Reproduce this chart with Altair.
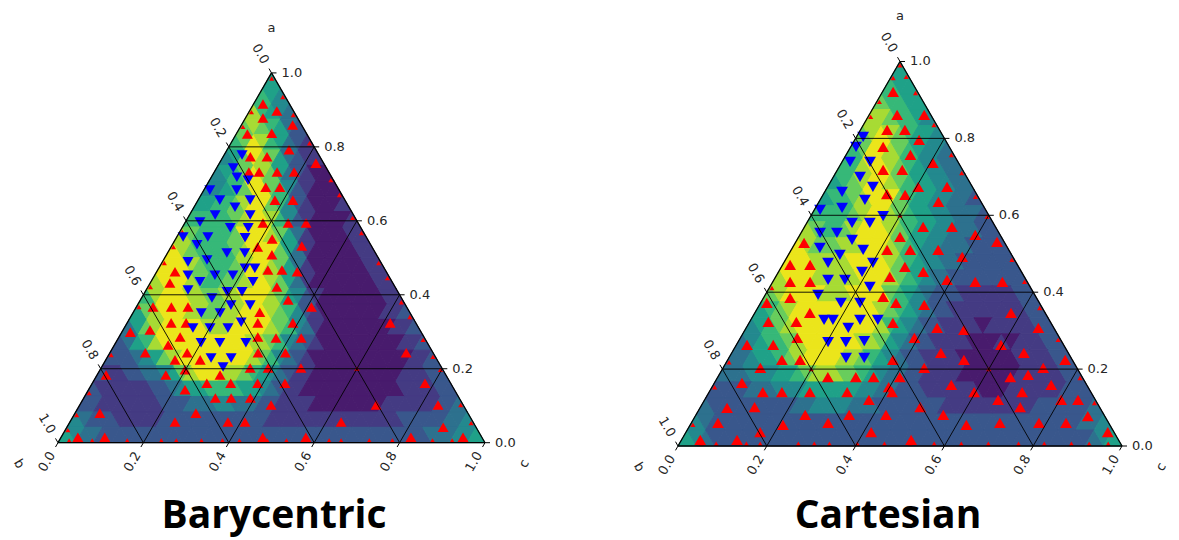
import math

import altair as alt
import pandas as pd

H = math.sqrt(3) / 2

# ---------------------------------------------------------------------------
# Barycentric panel
# heat map: one string per row of a 24-step ternary mesh (top row first);
# cells alternate up / down triangles, each digit is a level 0..9 of viridis
bary_heat = [
    "5",
    "654",
    "86543",
    "7876532",
    "679865321",
    "45798753211",
    "4567987532100",
    "445679976421000",
    "55667899764210001",
    "6666678998642100001",
    "8766667999" "87531" "0000" "11",
    "9876666789" "997531" "00000" "11",
    "9998766678" "9987531" "000000" "11",
    "8999876677" "89987531" "0000000" "11",
    "6899988778" "8999875421" "0000000" "11",
    "5789998877" "889998764" "21" "0000000" "112",
    "3578" "99999" "888" "9999" "8764" "31" "00000000" "112",
    "23568" "9999999999" "88" "764321" "000000000" "112",
    "22234578" "99999999" "8764321" "00000000000" "112",
    "211223345789998876543211" "0000000000" "11122",
    "211111122345566665543211" "00000000000" "111122",
    "22111111122233344333221111" "00000000" "111111" "223",
    "43222111112222222222221" "11111111111111" "22222" "334",
    "5433" "22222" "22222" "22222" "22222" "22222" "22222" "22222" "22333445",
]

# red up-triangles (a, c); b = 1 - a - c
bary_red_a = [
    .916, .897, .878, .835, .837, .859, .773, .773, .792, .732, .732, .732, .732, .756,
    .691, .691, .656, .656, .594, .594, .594, .551, .532, .529, .508, .467, .467, .462,
    .421, .386, .367, .353, .324, .324, .283, .286, .283, .243, .243, .202, .202, .202,
    .161, .161, .161, .121, .121, .121, .102, .143, .080, .056, .056, .056, .015, .015,
    .056, .102, .243, .324, .161, .102, .042, .015, .015, .462, .432, .367, .367, .367,
    .305, .299, .324, .324, .264, .286, .243, .224, .224, .183, .197, .183, .183, .080,
    .015, .015, .243, .161,
]
bary_red_c = [
    .022, .064, .041, .026, .082, .120, .064, .103, .145, .081, .105, .147, .187, .226,
    .141, .174, .180, .222, .183, .242, .284, .226, .305, .203, .247, .258, .291, .329,
    .302, .346, .410, .296, .306, .388, .369, .325, .428, .347, .411, .349, .391, .468,
    .451, .387, .324, .308, .345, .390, .448, .226, .283, .246, .370, .410, .472, .573,
    .635, .694, .694, .616, .779, .839, .881, .941, .819, .043, .046, .039, .082, .121,
    .063, .020, .103, .138, .126, .143, .083, .162, .221, .161, .199, .288, .021, .058,
    .039, .102, .181, .268,
]

# small red markers sitting on the frame and on one grid crossing
bary_edge_a = [
    .985,
    .034, .075, .134, .237, .367, .421, .486, .529, .570, .854, .894,
    .935, .886, .810, .710, .670, .608, .567, .486, .445, .380, .340, .278, .232, .197,
    .102, .053,
    .006, .006, .006, .006, .006, .006, .006, .006, .006, .006, .006, .006, .006, .006,
    .006, .006, .006,
    .200,
]
bary_edge_c = [
    .008,
    .006, .006, .006, .006, .006, .006, .006, .006, .006, .006, .006,
    .059, .108, .184, .284, .324, .386, .427, .508, .549, .614, .654, .716, .762, .797,
    .892, .941,
    .023, .077, .159, .239, .274, .333, .382, .422, .487, .532, .632, .660, .726, .780,
    .874, .920, .953,
    .600,
]

# blue down-triangles (a, c)
bary_blue_a = [
    .778, .743, .718, .710, .683, .683, .656, .656, .637, .616, .616, .597, .581, .581,
    .556, .556, .554, .513, .535, .489, .494, .513, .472, .472, .435, .435, .453, .453,
    .453, .413, .391, .408, .408, .372, .372, .351, .351, .310, .310, .310, .326, .270,
    .270, .270, .229, .229, .205,
]
bary_blue_c = [
    .042, .039, .060, .090, .014, .077, .122, .051, .096, .142, .060, .034, .113, .155,
    .073, .015, .161, .139, .058, .060, .102, .181, .202, .225, .239, .115, .078, .141,
    .183, .098, .165, .192, .227, .219, .264, .160, .204, .161, .201, .243, .266, .200,
    .244, .305, .244, .291, .284,
]

# ---------------------------------------------------------------------------
# Cartesian panel
cart_heat = [
    "5",
    "655",
    "76655",
    "8876654",
    "789876554",
    "67998765443",
    "6689987654433",
    "567899876554433",
    "56678999765544332",
    "6666789987655443332",
    "876678999876554433322",
    "98777889998765443332222",
    "999" "8888" "9999" "876544" "33" "222222",
    "8999" "88888" "999" "876543" "3" "22222222",
    "789999" "888" "9999" "7654" "3222" "111111" "22",
    "5678" "999999999" "87654322" "11111111" "22",
    "45678" "999999999" "8654322" "1111" "0" "11111" "22",
    "3456678" "999999" "88754322" "1111" "000" "1" "0" "111" "22",
    "33455678" "9999" "88765432211" "11000000111122",
    "33344455678887765433221" "1110000001111122",
    "222233344455555544332221" "11111000111111222",
    "3222222222334444333222222" "211111111112222223",
    "43" "2222222222" "2222222222" "2222222222" "2222222222" "334",
    "543" "2222222222" "2222222222" "2222222222" "2222222222" "2" "345",
]

cart_red_a = [
    .921, .861, .861, .822, .822, .796, .778, .757, .736, .718, .718, .674, .674, .653,
    .655, .635, .570, .570, .549, .531, .544, .510, .510, .510, .466, .440, .453, .432,
    .492, .427, .427, .528, .471, .471, .427, .427, .385, .346, .372, .323, .263, .263,
    .281, .224, .224, .203, .179, .164, .140, .140, .140, .140, .101, .099, .081, .060,
    .060, .036, .016, .016, .179, .179, .120, .153, .081, .081, .036, .016, .055, .388,
    .372, .367, .320, .307, .302, .346, .307, .281, .242, .224, .263, .242, .224, .224,
    .203, .179, .203, .159, .159, .140, .120, .140, .120, .120, .081, .060, .060, .078,
    .060, .055, .036, .101, .101, .140, .179, .185, .323,
]
cart_red_c = [
    .024, .063, .124, .060, .100, .145, .073, .145, .206, .103, .146, .204, .269, .185,
    .143, .269, .267, .332, .395, .453, .228, .216, .268, .331, .278, .257, .326, .390,
    .394, .456, .517, .020, .017, .062, .039, .084, .060, .124, .014, .042, .024, .083,
    .128, .122, .163, .084, .248, .062, .121, .164, .227, .311, .122, .061, .246, .308,
    .060, .167, .042, .125, .311, .351, .370, .398, .345, .428, .417, .517, .209, .268,
    .305, .371, .324, .430, .493, .577, .658, .392, .471, .532, .596, .658, .760, .372,
    .453, .659, .721, .761, .536, .597, .661, .705, .803, .841, .557, .695, .783, .884,
    .844, .622, .950, .495, .720, .412, .410, .696, .105,
]

cart_edge_a = [
    .990,
    .957, .895, .856, .411, .218, .153, .055,
    .960, .918, .835, .757, .710, .648, .596, .484, .427, .359, .276, .177, .112,
    .006, .006, .006, .006, .006, .006, .006, .006, .006, .006, .006, .006, .006, .006,
    .006, .006, .006, .006,
    .600, .200, .200,
]
cart_edge_c = [
    .005,
    .006, .006, .006, .006, .006, .006, .006,
    .034, .076, .159, .237, .284, .346, .398, .510, .567, .635, .718, .817, .882,
    .050, .083, .151, .182, .268, .304, .338, .401, .462, .520, .574, .635, .696, .764,
    .822, .883, .923, .966,
    .200, .200, .600,
]

cart_blue_a = [
    .804, .778, .739, .739, .700, .674, .661, .640, .619, .614, .598, .580, .580, .554,
    .554, .536, .515, .497, .510, .476, .476, .432, .432, .453, .414, .393, .372, .372,
    .328, .328, .307, .328, .328, .270, .270, .273, .229, .229,
]
cart_blue_c = [
    .015, .012, .018, .063, .060, .102, .039, .101, .060, .013, .163, .102, .142, .043,
    .081, .124, .062, .116, .162, .100, .201, .122, .160, .188, .225, .119, .181, .224,
    .165, .185, .230, .246, .286, .203, .243, .283, .264, .305,
]

tick_values = [0.0, 0.2, 0.4, 0.6, 0.8, 1.0]
grid_values = [0.2, 0.4, 0.6, 0.8]

LABEL_FONT = "DejaVu Sans"
LABEL_COLOR = "#262626"


def xy(a, c):
    """Ternary (a, c) -> plane coordinates; a at the top, c at bottom right."""
    return c + a / 2.0, a * H


def points_frame(a_list, c_list):
    rows = []
    for a, c in zip(a_list, c_list):
        x, y = xy(a, c)
        rows.append({"x": x, "y": y})
    return pd.DataFrame(rows)


def heat_frame(rows):
    n = len(rows)
    recs = []
    for k, row in enumerate(rows):
        assert len(row) == 2 * k + 1, (k, len(row))
        a_bot = (n - k - 1) / n
        for i, ch in enumerate(row):
            recs.append({
                "x": (i + 1) / (2 * n) + a_bot / 2,
                "y": (a_bot + 0.5 / n) * H,
                "v": int(ch),
                "dir": "up" if i % 2 == 0 else "down",
            })
    return pd.DataFrame(recs)


def segment_frame(segs):
    rows = []
    for a1, c1, a2, c2 in segs:
        x1, y1 = xy(a1, c1)
        x2, y2 = xy(a2, c2)
        rows.append({"x": x1, "y": y1, "x2": x2, "y2": y2})
    return pd.DataFrame(rows)


def panel(title, heat_rows, red, edge, blue, px, origin, size, title_pos, marker):
    w, h = size
    left_px, base_px = origin
    xs = alt.Scale(domain=[-left_px / px, (w - left_px) / px], nice=False, zero=False)
    ys = alt.Scale(domain=[-(h - base_px) / px, base_px / px], nice=False, zero=False)
    X = alt.X("x:Q", scale=xs, axis=None)
    Y = alt.Y("y:Q", scale=ys, axis=None)

    n = len(heat_rows)
    cell = px / n
    vir = alt.Scale(scheme="viridis", domain=[-0.7, 9.3])
    heat = alt.Chart(heat_frame(heat_rows)).mark_point(
        filled=True, opacity=1, strokeWidth=1
    ).encode(
        x=X, y=Y,
        fill=alt.Fill("v:Q", scale=vir, legend=None),
        stroke=alt.Stroke("v:Q", scale=vir, legend=None),
        shape=alt.Shape("dir:N", scale=alt.Scale(domain=["up", "down"],
                                                 range=["triangle-up", "triangle-down"]),
                        legend=None),
        size=alt.value(cell * cell),
    )

    reds = alt.Chart(points_frame(*red)).mark_point(
        shape="triangle-up", filled=True, color="#ff0000", opacity=1, size=marker
    ).encode(x=X, y=Y)
    smalls = alt.Chart(points_frame(*edge)).mark_point(
        shape="triangle-up", filled=True, color="#ff0000", opacity=1, size=26
    ).encode(x=X, y=Y)
    blues = alt.Chart(points_frame(*blue)).mark_point(
        shape="triangle-down", filled=True, color="#0000ff", opacity=1, size=marker
    ).encode(x=X, y=Y)

    grid_segs = []
    for v in grid_values:
        grid_segs.append((v, 0.0, v, 1 - v))        # a = v
        grid_segs.append((1 - v, 0.0, 0.0, 1 - v))  # b = v
        grid_segs.append((0.0, v, 1 - v, v))        # c = v
    grid = alt.Chart(segment_frame(grid_segs)).mark_rule(
        color="#000000", strokeWidth=1, opacity=0.9
    ).encode(x=X, y=Y, x2="x2:Q", y2="y2:Q")

    frame = alt.Chart(segment_frame([
        (1.0, 0.0, 0.0, 0.0), (0.0, 0.0, 0.0, 1.0), (0.0, 1.0, 1.0, 0.0)
    ])).mark_rule(color="#000000", strokeWidth=1.3).encode(
        x=X, y=Y, x2="x2:Q", y2="y2:Q")

    # ticks and tick labels of the three axes
    axes = {
        "a": (lambda t: xy(t, 1 - t), (1.0, 0.0), 10, 0, "left"),
        "b": (lambda t: xy(1 - t, 0.0), (-0.5, H), 22, 60, "center"),
        "c": (lambda t: xy(0.0, t), (-0.5, -H), 22, 300, "center"),
    }
    tick_rows, label_layers = [], []
    for name, (base, (dx, dy), off, ang, align) in axes.items():
        lab = []
        for t in tick_values:
            bx, by = base(t)
            tick_rows.append({"x": bx, "y": by,
                              "x2": bx + dx * 5 / px, "y2": by + dy * 5 / px})
            lab.append({"x": bx + dx * off / px, "y": by + dy * off / px,
                        "t": f"{t:.1f}"})
        label_layers.append(
            alt.Chart(pd.DataFrame(lab)).mark_text(
                font=LABEL_FONT, fontSize=13, color=LABEL_COLOR, angle=ang,
                align=align, baseline="middle"
            ).encode(x=X, y=Y, text="t:N")
        )
    ticks = alt.Chart(pd.DataFrame(tick_rows)).mark_rule(
        color="#000000", strokeWidth=1).encode(x=X, y=Y, x2="x2:Q", y2="y2:Q")

    names = []
    for txt, (nx, ny), ang in [
        ("a", (0.5, H + 45 / px), 0),
        ("b", (-39 / px, -21 / px), 60),
        ("c", (1 + 39 / px, -21 / px), 300),
    ]:
        names.append(alt.Chart(pd.DataFrame([{"x": nx, "y": ny, "t": txt}])).mark_text(
            font=LABEL_FONT, fontSize=13, color=LABEL_COLOR, angle=ang,
            align="center", baseline="middle"
        ).encode(x=X, y=Y, text="t:N"))

    tx, ty = title_pos
    head = alt.Chart(pd.DataFrame([{"x": tx, "y": ty, "t": title}])).mark_text(
        font="Open Sans", fontWeight="bold", fontSize=39, color="#000000",
        align="center", baseline="alphabetic"
    ).encode(x=X, y=Y, text="t:N")

    return alt.layer(
        heat, reds, smalls, blues, grid, frame, ticks, *label_layers, *names, head
    ).properties(width=w, height=h)


left = panel(
    "Barycentric", bary_heat,
    (bary_red_a, bary_red_c), (bary_edge_a, bary_edge_c), (bary_blue_a, bary_blue_c),
    px=427, origin=(58, 442.7), size=(590, 540), title_pos=(0.506, -0.200), marker=121,
)
right = panel(
    "Cartesian", cart_heat,
    (cart_red_a, cart_red_c), (cart_edge_a, cart_edge_c), (cart_blue_a, cart_blue_c),
    px=444, origin=(88, 446), size=(589, 540), title_pos=(0.473, -0.185), marker=140,
)

chart = alt.hconcat(left, right, spacing=0).properties(
    padding=0, background="#ffffff"
).configure_view(stroke=None)

chart.save("out.html", embed_options={"renderer": "svg", "actions": False})
